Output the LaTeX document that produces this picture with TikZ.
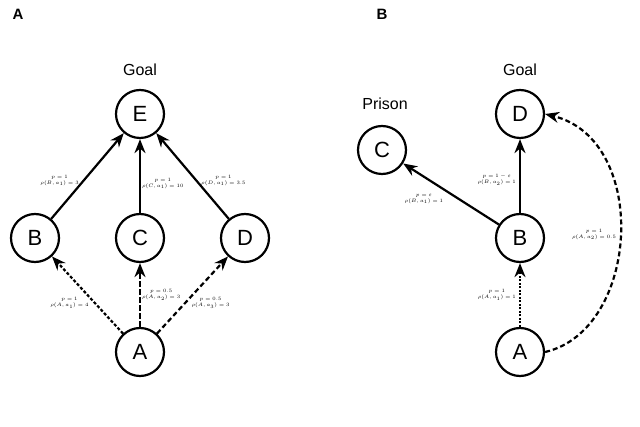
\documentclass[tikz,border=0pt]{standalone}
\usepackage{fontspec}
\setmainfont{Liberation Sans}
\usetikzlibrary{arrows.meta}
\begin{document}
\begin{tikzpicture}[x=1pt,y=-1pt,
 st/.style={circle,draw,line width=2.2pt,minimum size=48pt,inner sep=0pt,font=\fontsize{22}{22}\selectfont},
 ar/.style={line width=2.2pt,-{Stealth[length=14pt,width=11pt]}},
 lb/.style={font=\fontsize{5}{6}\selectfont,align=center,inner sep=1pt},
 ttl/.style={font=\bfseries\fontsize{15}{15}\selectfont},
 gl/.style={font=\fontsize{16}{16}\selectfont}]
\useasboundingbox (0,0) rectangle (640,427);
\node[ttl] (tA) at (18,14) {A};
\node[ttl] (tB) at (382,14) {B};
% panel A
\node[st] (E) at (140,114) {E};
\node[st] (B) at (35,238) {B};
\node[st] (C) at (140,238) {C};
\node[st] (D) at (245,238) {D};
\node[st] (A) at (140,352) {A};
\node[gl] (gA) at (140,70) {Goal};
\draw[ar] (B) -- node[lb,left=3pt,pos=0.45]{$p=1$\\$\rho(B,a_1)=3$} (E);
\draw[ar] (C) -- node[lb,right,pos=0.4]{$p=1$\\$\rho(C,a_1)=10$} (E);
\draw[ar] (D) -- node[lb,right=3pt,pos=0.45]{$p=1$\\$\rho(D,a_1)=3.5$} (E);
\draw[ar,dash pattern=on 3pt off 2pt] (A) -- node[lb,left=4pt,pos=0.4]{$p=1$\\$\rho(A,a_1)=4$} (B);
\draw[ar,dash pattern=on 6pt off 2pt] (A) -- node[lb,right,pos=0.5]{$p=0.5$\\$\rho(A,a_2)=3$} (C);
\draw[ar,dash pattern=on 5pt off 3pt] (A) -- node[lb,right=4pt,pos=0.4]{$p=0.5$\\$\rho(A,a_3)=3$} (D);
% panel B
\node[st] (D2) at (520,114) {D};
\node[st] (C2) at (382,150) {C};
\node[st] (B2) at (520,238) {B};
\node[st] (A2) at (520,352) {A};
\node[gl] (gB) at (520,70) {Goal};
\node[gl] (pr) at (385,104) {Prison};
\draw[ar] (B2) -- node[lb,below left=1pt,pos=0.55]{$p=\varepsilon$\\$\rho(B,a_1)=1$} (C2);
\draw[ar] (B2) -- node[lb,left=2pt,pos=0.45]{$p=1-\varepsilon$\\$\rho(B,a_2)=1$} (D2);
\draw[ar,dash pattern=on 2pt off 1.5pt] (A2) -- node[lb,left=2pt,pos=0.5]{$p=1$\\$\rho(A,a_1)=1$} (B2);
\draw[ar,dash pattern=on 5pt off 3pt] (A2.east) .. controls (640,330) and (650,140) .. node[lb,left=2pt,pos=0.5]{$p=1$\\$\rho(A,a_2)=0.5$} (D2.east);
\end{tikzpicture}
\end{document}
